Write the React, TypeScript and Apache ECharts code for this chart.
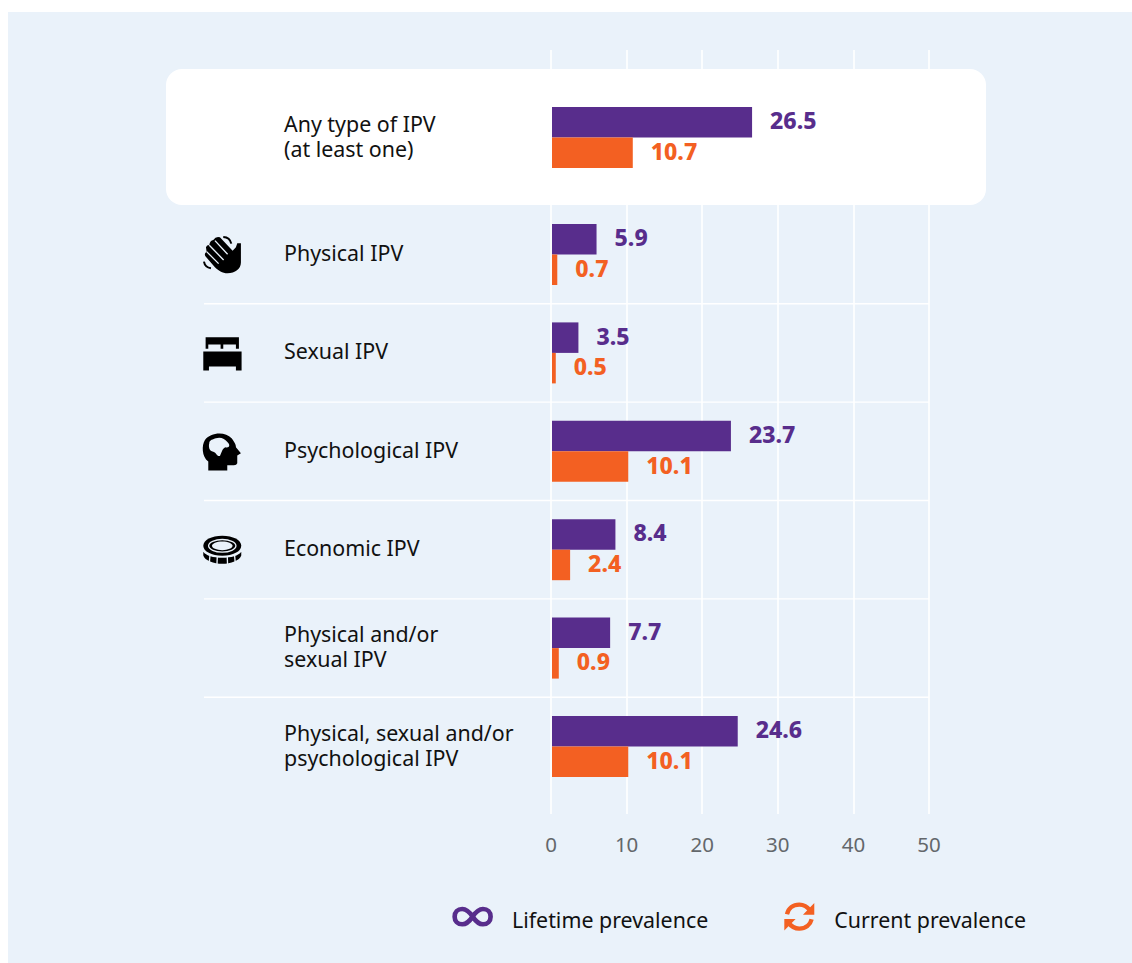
import React, { useEffect, useRef } from "react";
import * as echarts from "echarts";

const FONT = '"Noto Sans", sans-serif';
const PANEL = "#EAF2FA";
const PURPLE = "#582D8C";
const ORANGE = "#F36022";
const BLACK = "#000000";

const topCategory = ["Any type of IPV\n(at least one)"];
const topLifetime = [26.5];
const topCurrent = [10.7];
const categories = [
  "Physical IPV",
  "Sexual IPV",
  "Psychological IPV",
  "Economic IPV",
  "Physical and/or\nsexual IPV",
  "Physical, sexual and/or\npsychological IPV",
];
const lifetime = [5.9, 3.5, 23.7, 8.4, 7.7, 24.6];
const current = [0.7, 0.5, 10.1, 2.4, 0.9, 10.1];
const axisMax = 50;
const axisStep = 10;
const LIFETIME_NAME = "Lifetime prevalence";
const CURRENT_NAME = "Current prevalence";

const shapes: Record<string, string> = {
  handBody:
    "M228,112 L232,100 L243,100 L243,158 C243,178 225,190 203,190 C187,190 175,182 165,172 L137,140 Q131,130 140,125 L138,112 Q140,105 148,105 Q150,92 160,90 Q168,78 180,82 L218,122 Z",
  handGaps: "M165,92 L203,133 M148,106 L191,150 M140,125 L176,161",
  handArcs: "M190,81 Q210,82 214,101 M132,155 Q135,172 153,175",
  bed: "M137,382 L237,382 L237,417 L228,417 L228,404 L190,404 L190,417 L182,417 L182,404 L145,404 L145,417 L137,417 Z M130,425 L245,425 L245,482 L228,482 L228,470 L147,470 L147,482 L130,482 Z",
  head: "M145,182 L145,155 C125,140 125,105 135,90 C150,68 195,62 215,85 C225,98 228,105 228,112 L243,130 L232,137 L232,160 Q230,166 222,166 L202,166 L202,182 Z",
  brain:
    "M148,100 C148,90 160,88 168,85 C180,80 195,85 203,97 C212,105 208,115 197,112 C187,115 187,125 180,138 C170,140 170,128 160,125 C148,125 145,110 148,100 Z",
  coinTop: "M130,408 C130,391 155,378 187,378 C219,378 244,391 244,408 C244,425 219,438 187,438 C155,438 130,425 130,408 Z",
  coinRing: "M146,408 C146,397 165,389 187,389 C209,389 228,397 228,408 C228,419 209,427 187,427 C165,427 146,419 146,408 Z",
  coinCentre: "M156,408 C156,401 170,395 187,395 C204,395 218,401 218,408 C218,415 204,421 187,421 C170,421 156,415 156,408 Z",
  coinBottom:
    "M130,426 C138,438 160,444 187,444 C214,444 236,438 244,426 L244,437 C240,452 212,462 187,462 C162,462 134,452 130,437 Z",
  coinGaps: "M150,436 L148,460 M172,441 L171,466 M202,441 L203,466 M224,436 L226,460",
  infinity:
    "M128,110 C118,95 110,87 97,87 C83,87 74,97 74,110 C74,123 83,133 97,133 C110,133 118,125 128,110 C138,95 146,87 159,87 C173,87 182,97 182,110 C182,123 173,133 159,133 C146,133 138,125 128,110 Z",
  syncArcs: "M1072,103 C1076,85 1090,74 1109,74 C1122,74 1133,80 1142,92 M1146,118 C1142,135 1128,146 1109,146 C1096,146 1085,140 1076,128",
  syncHeads: "M1154,69 L1154,104 L1120,104 Z M1064,152 L1064,117 L1098,117 Z",
};
Object.entries(shapes).forEach(([name, d]) => {
  echarts.graphic.registerShape(name, echarts.graphic.extendPath(d, {}));
});

const shapeAt = (type: string, x: number, y: number, style: Record<string, unknown>) => ({
  type,
  x,
  y,
  scaleX: 1 / 3,
  scaleY: 1 / 3,
  z: 20,
  silent: true,
  style,
});

const barLabel = (color: string) => ({
  show: true,
  position: "right" as const,
  distance: 18,
  offset: [0, -2],
  color,
  fontFamily: FONT,
  fontWeight: 800,
  fontSize: 23,
});

const barSeries = (name: string, data: number[], color: string, axisIndex: number) => ({
  type: "bar" as const,
  name,
  data,
  xAxisIndex: axisIndex,
  yAxisIndex: axisIndex,
  barWidth: 30.5,
  barGap: 0,
  itemStyle: { color },
  label: barLabel(color),
  silent: true,
});

const hiddenValueAxis = (gridIndex: number) => ({
  type: "value" as const,
  gridIndex,
  min: 0,
  max: axisMax,
  interval: axisStep,
  show: false,
});

const hiddenCategoryAxis = (gridIndex: number, data: string[]) => ({
  type: "category" as const,
  gridIndex,
  data,
  inverse: true,
  show: false,
});

const labelAxis = (gridIndex: number, data: string[]) => ({
  type: "category" as const,
  gridIndex,
  data,
  inverse: true,
  axisLine: { show: false },
  axisTick: { show: false },
  splitLine: { show: false },
  axisLabel: {
    interval: 0,
    align: "left" as const,
    margin: 268,
    color: "#111111",
    fontFamily: FONT,
    fontSize: 21.4,
    lineHeight: 25,
  },
});

const option = {
  animation: false,
  grid: [
    { left: 552, top: 88.3, width: 377.5, height: 98.4 },
    { left: 552, top: 205.3, width: 377.5, height: 590.4 },
    { left: 551, top: 50, width: 378, height: 764 },
    { left: 552, top: 86.3, width: 377.5, height: 98.4 },
    { left: 552, top: 203.3, width: 377.5, height: 590.4 },
  ],
  xAxis: [
    hiddenValueAxis(0),
    hiddenValueAxis(1),
    {
      type: "value",
      gridIndex: 2,
      min: 0,
      max: axisMax,
      interval: axisStep,
      axisLine: { show: false },
      axisTick: { show: false },
      splitLine: { show: true, lineStyle: { color: "#FFFFFF", width: 1.6 } },
      axisLabel: { color: "#63676B", fontFamily: FONT, fontSize: 20.5, margin: 19 },
    },
    hiddenValueAxis(3),
    hiddenValueAxis(4),
  ],
  yAxis: [
    hiddenCategoryAxis(0, topCategory),
    hiddenCategoryAxis(1, categories),
    { type: "category", gridIndex: 2, data: [""], show: false },
    labelAxis(3, topCategory),
    labelAxis(4, categories),
  ],
  legend: {
    show: true,
    left: 462,
    top: 904,
    itemWidth: 40,
    itemHeight: 20,
    itemGap: 81,
    selectedMode: false,
    icon: "rect",
    itemStyle: { opacity: 0 },
    textStyle: { color: "#111111", fontFamily: FONT, fontSize: 21.4, padding: [0, 0, 0, 0] },
    data: [LIFETIME_NAME, CURRENT_NAME],
  },
  series: [
    barSeries(LIFETIME_NAME, topLifetime, PURPLE, 0),
    barSeries(CURRENT_NAME, topCurrent, ORANGE, 0),
    barSeries(LIFETIME_NAME, lifetime, PURPLE, 1),
    barSeries(CURRENT_NAME, current, ORANGE, 1),
  ],
  graphic: [
    { type: "rect", z: -10, silent: true, shape: { x: 8, y: 12, width: 1124, height: 951 }, style: { fill: PANEL } },
    { type: "rect", z: -9, silent: true, shape: { x: 166, y: 69, width: 820, height: 136, r: 16 }, style: { fill: "#FFFFFF" } },
    ...[303.7, 402.1, 500.5, 598.9, 697.3].map((y) => ({
      type: "line",
      z: -8,
      silent: true,
      shape: { x1: 204, y1: y, x2: 929, y2: y },
      style: { stroke: "#FFFFFF", lineWidth: 1.4 },
    })),
    shapeAt("handBody", 160, 210, { fill: BLACK }),
    shapeAt("handGaps", 160, 210, { fill: "none", stroke: PANEL, lineWidth: 4 }),
    shapeAt("handArcs", 160, 210, { fill: "none", stroke: BLACK, lineWidth: 6 }),
    shapeAt("bed", 160, 210, { fill: BLACK }),
    shapeAt("head", 160, 410, { fill: BLACK }),
    shapeAt("brain", 160, 410, { fill: PANEL }),
    shapeAt("coinTop", 160, 410, { fill: BLACK }),
    shapeAt("coinRing", 160, 410, { fill: "none", stroke: PANEL, lineWidth: 4 }),
    shapeAt("coinCentre", 160, 410, { fill: PANEL }),
    shapeAt("coinBottom", 160, 410, { fill: BLACK }),
    shapeAt("coinGaps", 160, 410, { fill: "none", stroke: PANEL, lineWidth: 4 }),
    shapeAt("infinity", 430, 880, { fill: "none", stroke: PURPLE, lineWidth: 14 }),
    shapeAt("syncArcs", 430, 880, { fill: "none", stroke: ORANGE, lineWidth: 13 }),
    shapeAt("syncHeads", 430, 880, { fill: ORANGE }),
  ],
};

export default function App() {
  const ref = useRef<HTMLDivElement>(null);
  useEffect(() => {
    document.body.style.margin = "0";
    document.body.style.background = "#FFFFFF";
    const chart = echarts.init(ref.current!, undefined, { renderer: "svg" });
    chart.setOption(option as any);
    return () => chart.dispose();
  }, []);
  return <div ref={ref} style={{ width: 1132, height: 963 }} />;
}
